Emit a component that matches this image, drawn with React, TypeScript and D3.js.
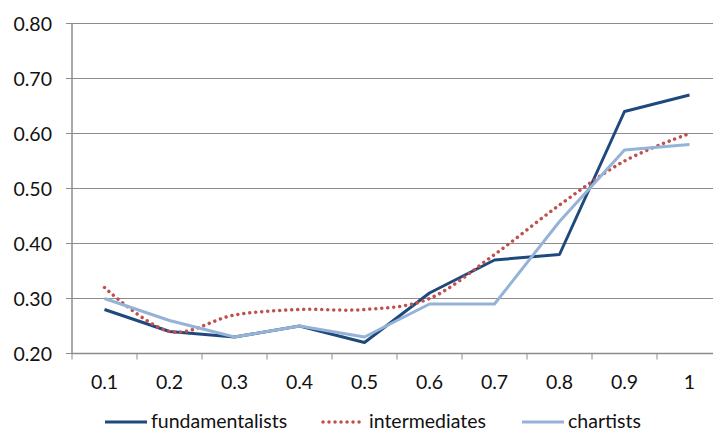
import React from "react";
import * as d3 from "d3";

const categories = ["0.1", "0.2", "0.3", "0.4", "0.5", "0.6", "0.7", "0.8", "0.9", "1"];
const fundamentalists = [0.28, 0.24, 0.23, 0.25, 0.22, 0.31, 0.37, 0.38, 0.64, 0.67];
const intermediates = [0.32, 0.24, 0.27, 0.28, 0.28, 0.3, 0.38, 0.47, 0.55, 0.6];
const chartists = [0.3, 0.26, 0.23, 0.25, 0.23, 0.29, 0.29, 0.44, 0.57, 0.58];
const yTicks = [0.2, 0.3, 0.4, 0.5, 0.6, 0.7, 0.8];

const W = 713;
const H = 430;
const left = 72;
const right = 722;
const top = 23.5;
const bottom = 353.5;
const FONT = "Lato, 'Open Sans', sans-serif";
const FS = 19.5;

export default function App() {
  const x = d3.scaleBand<string>().domain(categories).range([left, right]);
  const y = d3.scaleLinear().domain([0.2, 0.8]).range([bottom, top]);
  const cx = (i: number) => (x(categories[i]) as number) + x.bandwidth() / 2;

  const straight = d3
    .line<number>()
    .x((_, i) => cx(i))
    .y((d) => y(d));
  const smooth = d3
    .line<number>()
    .x((_, i) => cx(i))
    .y((d) => y(d))
    .curve(d3.curveCardinal.tension(0));

  const tickEdges = categories.map((c) => x(c) as number).concat([right]);

  const legend = [
    { label: "fundamentalists", color: "#1F497D", dash: undefined, x0: 105 },
    { label: "intermediates", color: "#C0504D", dash: "0.01 6", x0: 323 },
    { label: "chartists", color: "#95B3D7", dash: undefined, x0: 522 },
  ];

  return (
    <svg
      width={W}
      height={H}
      style={{ position: "absolute", left: 0, top: 0, background: "#fff" }}
      fontFamily={FONT}
    >
      <rect x={0} y={0} width={W} height={H} fill="#fff" />
      {yTicks.map((t) => (
        <g key={t}>
          {t > 0.2 && (
            <line x1={left} x2={W} y1={y(t)} y2={y(t)} stroke="#8c8c8c" strokeWidth={1} />
          )}
          <line x1={left - 6} x2={left} y1={y(t)} y2={y(t)} stroke="#8c8c8c" strokeWidth={1} />
          <text x={52} y={y(t)} dy="0.36em" textAnchor="end" fontSize={FS} fill="#111">
            {t.toFixed(2)}
          </text>
        </g>
      ))}
      <line x1={left} x2={left} y1={top} y2={bottom} stroke="#8c8c8c" strokeWidth={1.5} />
      <line x1={left} x2={W} y1={bottom} y2={bottom} stroke="#8c8c8c" strokeWidth={1.5} />
      {tickEdges.map((e, i) => (
        <line key={i} x1={e} x2={e} y1={bottom} y2={bottom + 6} stroke="#8c8c8c" strokeWidth={1} />
      ))}
      {categories.map((c, i) => (
        <text key={c} x={cx(i)} y={388.5} textAnchor="middle" fontSize={FS} fill="#111">
          {c}
        </text>
      ))}
      <path d={straight(fundamentalists) || ""} fill="none" stroke="#1F497D" strokeWidth={3} strokeLinejoin="round" />
      <path
        d={smooth(intermediates) || ""}
        fill="none"
        stroke="#C0504D"
        strokeWidth={3.5}
        strokeDasharray="0.01 6"
        strokeLinecap="round"
      />
      <path d={straight(chartists) || ""} fill="none" stroke="#95B3D7" strokeWidth={3} strokeLinejoin="round" />
      {legend.map((l) => (
        <g key={l.label}>
          <line
            x1={l.x0}
            x2={l.x0 + 42}
            y1={422}
            y2={422}
            stroke={l.color}
            strokeWidth={l.dash ? 3.5 : 3}
            strokeDasharray={l.dash}
            strokeLinecap={l.dash ? "round" : "butt"}
          />
          <text x={l.x0 + 46} y={427.5} fontSize={FS} fill="#111">
            {l.label}
          </text>
        </g>
      ))}
    </svg>
  );
}
